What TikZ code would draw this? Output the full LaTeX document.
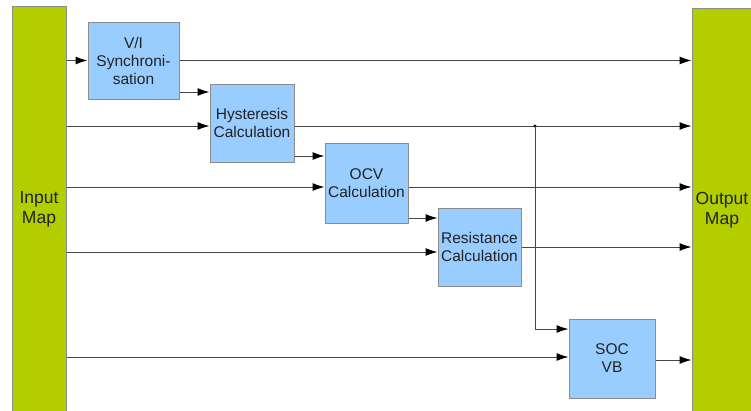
\documentclass[tikz,border=0pt]{standalone}
\usepackage{fontspec}
\setmainfont{Liberation Sans}
\usetikzlibrary{arrows.meta}
\definecolor{barg}{RGB}{178,206,0}
\definecolor{boxb}{RGB}{153,204,255}
\definecolor{edgeg}{RGB}{140,140,140}
\definecolor{linec}{RGB}{70,70,70}
\definecolor{txt}{RGB}{34,34,34}
\begin{document}
\begin{tikzpicture}[x=1pt,y=-1pt,
 blk/.style={draw=edgeg,line width=1pt,fill=boxb,inner sep=0pt,align=center,text=txt,font=\fontsize{15.5}{18}\selectfont},
 bar/.style={draw=edgeg,line width=1pt,fill=barg,inner sep=0pt,align=center,text=txt,font=\fontsize{17.5}{20}\selectfont},
 con/.style={draw=linec,line width=1pt,-{Latex[length=12pt,width=8pt,color=black]}},
 wire/.style={draw=linec,line width=1pt}]
\useasboundingbox (0,0) rectangle (751,410);
\node[bar,minimum width=54pt,minimum height=406pt] (in) at (39,209) {Input\\Map};
\node[bar,minimum width=60pt,minimum height=404pt] (out) at (722,210) {Output\\Map};
\node[blk,minimum width=91pt,minimum height=77pt] (vi) at (133.5,60.5) {V/I\\Synchroni-\\sation};
\node[blk,minimum width=84pt,minimum height=78pt] (hy) at (252,123) {Hysteresis\\Calculation};
\node[blk,minimum width=83pt,minimum height=80pt] (ocv) at (366.5,183) {OCV\\Calculation};
\node[blk,minimum width=83pt,minimum height=78pt] (res) at (479.5,247) {Resistance\\Calculation};
\node[blk,minimum width=86pt,minimum height=79pt] (soc) at (612,358.5) {SOC\\VB};
\coordinate (l92) at (0,92);
\coordinate (l126) at (0,126);
\coordinate (l156) at (0,156);
\coordinate (l187) at (0,187);
\coordinate (l218) at (0,218);
\coordinate (l252) at (0,252);
\coordinate (l329) at (0,329);
\coordinate (l357) at (0,357);
\coordinate (l360) at (0,360);
\coordinate (j) at (535,126);
\draw[con] (in.east |- vi.west) -- (vi.west);
\draw[con] (vi.east) -- (out.west |- vi.east);
\draw[con] (vi.east |- l92) -- (hy.west |- l92);
\draw[con] (in.east |- l126) -- (hy.west |- l126);
\draw[con] (hy.east |- l126) -- (out.west |- l126);
\fill[black] (j) circle (1.6pt);
\draw[con] (j) |- (soc.west |- l329);
\draw[con] (hy.east |- l156) -- (ocv.west |- l156);
\draw[con] (in.east |- l187) -- (ocv.west |- l187);
\draw[con] (ocv.east |- l187) -- (out.west |- l187);
\draw[con] (ocv.east |- l218) -- (res.west |- l218);
\draw[con] (in.east |- l252) -- (res.west |- l252);
\draw[con] (res.east) -- (out.west |- res.east);
\draw[con] (in.east |- l357) -- (soc.west |- l357);
\draw[con] (soc.east |- l360) -- (out.west |- l360);
\end{tikzpicture}
\end{document}
